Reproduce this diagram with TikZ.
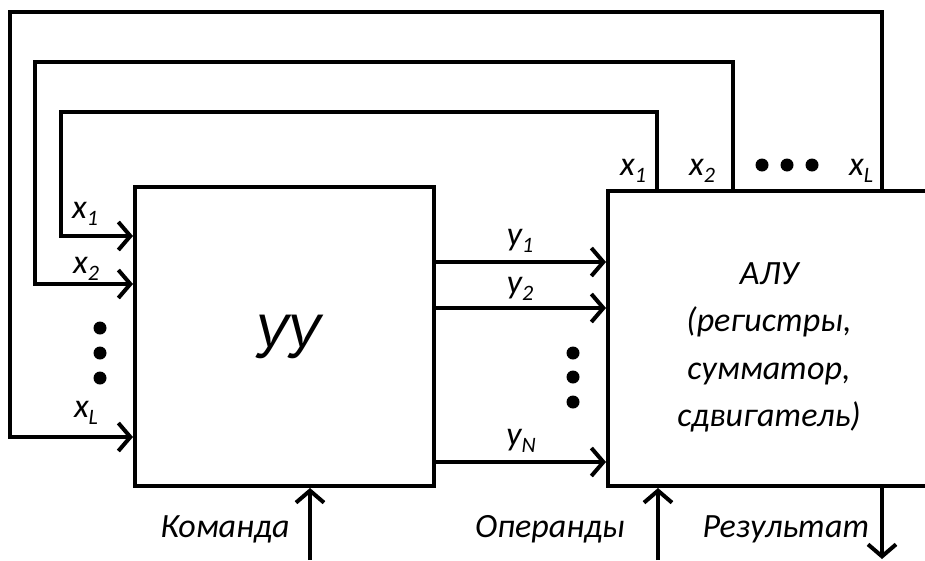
\documentclass[tikz,border=0pt]{standalone}
\usepackage{fontspec}
\setmainfont{Carlito}
\newfontfamily\uufont{PT Sans}
\usetikzlibrary{arrows.meta,positioning}
\newcommand{\sig}[2]{#1\raisebox{-7pt}{\fontsize{22}{22}\selectfont #2}}

\begin{document}
\begin{tikzpicture}[x=1pt,y=-1pt,
  font=\itshape\fontsize{34}{47.5}\selectfont,
  wire/.style={line width=4pt},
  arr/.style={wire,-{Straight Barb[length=12pt,width=28pt]}},
  block/.style={draw,wire,inner sep=0pt,align=center},
  lbl/.style={anchor=base,inner sep=0pt},
  dot/.style={circle,fill,inner sep=0pt,minimum size=13pt}]
\useasboundingbox (0,0) rectangle (925,560);
% blocks
\node[block,minimum width=299pt,minimum height=299pt,
  font=\uufont\itshape\fontsize{62}{62}\selectfont] (uu) at (284.5,336.5) {УУ};
\node[block,minimum width=322pt,minimum height=295pt] (alu) at (769,338.5) {};
\node[align=center,inner sep=0pt] (alutext) at ([yshift=-9pt]alu.center)
  {АЛУ\\(регистры,\\сумматор,\\сдвигатель)};
% feedback x_i from ALU back to the control unit
\coordinate (c1) at (657,112); \coordinate (d1) at (61,236);
\coordinate (c2) at (733,62);  \coordinate (d2) at (35,284);
\coordinate (c3) at (882,12);  \coordinate (d3) at (10,437);
\foreach \i in {1,2,3}
  \draw[arr] (alu.north -| c\i) -- (c\i) -| (d\i) -- (uu.west |- d\i);
\node[lbl] (lx1) at (85,218) {\sig{x}{1}};
\node[lbl] (lx2) at (86,273) {\sig{x}{2}};
\node[lbl] (lxL) at (86,417) {\sig{x}{L}};
\node[lbl] (tx1) at (633,175) {\sig{x}{1}};
\node[lbl] (tx2) at (702,175) {\sig{x}{2}};
\node[lbl] (txL) at (861,175) {\sig{x}{L}};
\foreach \y [count=\k] in {328,353,378}
  \node[dot] (ld\k) at (100,\y) {};
\foreach \x [count=\k] in {762,787,812}
  \node[dot] (td\k) at (\x,165) {};
% control signals y_j
\coordinate (o1) at (0,262); \coordinate (o2) at (0,308); \coordinate (oN) at (0,462);
\foreach \o in {o1,o2,oN}
  \draw[arr] (uu.east |- \o) -- (alu.west |- \o);
\node[lbl] (ly1) at (520,245) {\sig{y}{1}};
\node[lbl] (ly2) at (520,293) {\sig{y}{2}};
\node[lbl] (lyN) at (521,445) {\sig{y}{N}};
\foreach \y [count=\k] in {353,377,402}
  \node[dot] (md\k) at (573,\y) {};
% inputs and output
\coordinate (cmd) at (310,560);
\coordinate (opd) at (658,560);
\coordinate (res) at (882,559);
\draw[arr] (cmd) -- (uu.south -| cmd);
\draw[arr] (opd) -- (alu.south -| opd);
\draw[arr] (alu.south -| res) -- (res);
\node[lbl] (lcmd) at (225,537) {Команда};
\node[lbl] (lopd) at (550,537) {Операнды};
\node[lbl] (lres) at (786,537) {Результат};
\end{tikzpicture}
\end{document}
